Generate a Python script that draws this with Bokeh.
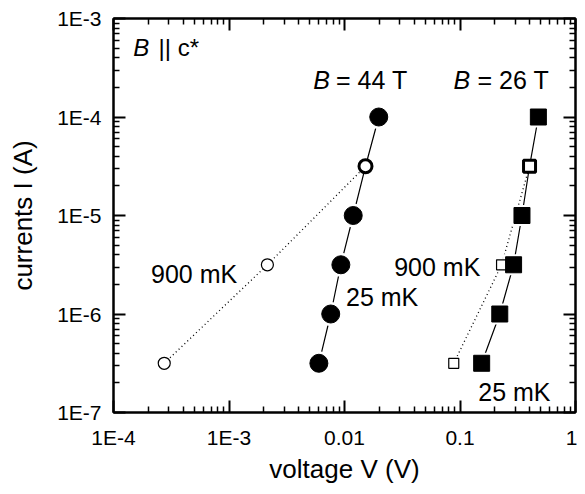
from bokeh.plotting import figure
from bokeh.models import (LogAxis, FixedTicker, CustomJSTickFormatter, Label,
                          ColumnDataSource, CDSView, IndexFilter)
from bokeh.embed import file_html
from bokeh.resources import INLINE

# ---------------- data ----------------
i_levels = [3.16e-7, 1e-6, 3.16e-6, 1e-5, 3.16e-5, 1e-4]
v_44T_25mK = [0.0060, 0.0076, 0.0093, 0.0119, 0.0152, 0.0198]
i_900mK = [3.16e-7, 3.16e-6, 3.16e-5]
v_44T_900mK = [2.75e-4, 0.00215, 0.0152]
v_26T_25mK = [0.154, 0.221, 0.291, 0.344, 0.40, 0.477]
v_26T_900mK = [0.0883, 0.229, 0.40]

x_ticks = [1e-4, 1e-3, 1e-2, 1e-1, 1.0]
x_tick_labels = ["1E-4", "1E-3", "0.01", "0.1", "1"]
y_ticks = [1e-7, 1e-6, 1e-5, 1e-4, 1e-3]
y_tick_labels = ["1E-7", "1E-6", "1E-5", "1E-4", "1E-3"]

FONT = "Liberation Sans"

def minor(decades):
    out = []
    for d in decades[:-1]:
        for k in range(2, 10):
            out.append(d * k)
    return out

fmt_code = """
let best = 0; let bd = 1e9;
for (let k = 0; k < tvals.length; k++) {
  const d = Math.abs(Math.log10(tick) - Math.log10(tvals[k]));
  if (d < bd) { bd = d; best = k; }
}
return tlabels[best];
"""

p = figure(width=577, height=486, x_axis_type="log", y_axis_type="log",
           x_range=(1e-4, 1.0), y_range=(1e-7, 1e-3),
           output_backend="svg", toolbar_location=None,
           min_border_left=113, min_border_top=18, min_border_right=2,
           min_border_bottom=73)
p.grid.visible = False
p.outline_line_color = "black"
p.outline_line_width = 2
p.background_fill_color = "white"
p.border_fill_color = "white"

xt = FixedTicker(ticks=x_ticks, minor_ticks=minor(x_ticks))
yt = FixedTicker(ticks=y_ticks, minor_ticks=minor(y_ticks))

def style(ax, show_labels):
    ax.axis_line_width = 2
    ax.major_tick_in = 12
    ax.major_tick_out = 0
    ax.minor_tick_in = 6
    ax.minor_tick_out = 0
    ax.major_tick_line_width = 2
    ax.minor_tick_line_width = 1.5
    ax.major_label_text_font = FONT
    ax.major_label_text_font_size = "21px"
    ax.major_label_text_color = "black"
    ax.axis_label_text_font = FONT
    ax.axis_label_text_font_style = "normal"
    ax.axis_label_text_font_size = "26px"
    ax.axis_label_text_color = "black"
    if not show_labels:
        ax.major_label_text_font_size = "0px"
        ax.major_label_text_color = None

xa = p.xaxis[0]
xa.ticker = xt
xa.formatter = CustomJSTickFormatter(args=dict(tvals=x_ticks, tlabels=x_tick_labels), code=fmt_code)
style(xa, True)
xa.axis_label = "voltage V (V)"
xa.major_label_standoff = 13
xa.axis_label_standoff = 2

ya = p.yaxis[0]
ya.ticker = yt
ya.formatter = CustomJSTickFormatter(args=dict(tvals=y_ticks, tlabels=y_tick_labels), code=fmt_code)
style(ya, True)
ya.axis_label = "currents I (A)"
ya.major_label_standoff = 12
ya.axis_label_standoff = 16

ta = LogAxis(ticker=FixedTicker(ticks=x_ticks, minor_ticks=minor(x_ticks)))
style(ta, False)
p.add_layout(ta, "above")
ra = LogAxis(ticker=FixedTicker(ticks=y_ticks, minor_ticks=minor(y_ticks)))
style(ra, False)
p.add_layout(ra, "right")

# ---------------- glyphs ----------------
s44 = ColumnDataSource(dict(v=v_44T_25mK, i=i_levels))
s44h = ColumnDataSource(dict(v=v_44T_900mK, i=i_900mK))
s26 = ColumnDataSource(dict(v=v_26T_25mK, i=i_levels))
s26h = ColumnDataSource(dict(v=v_26T_900mK, i=i_900mK))

filled_idx = IndexFilter([0, 1, 2, 3, 5])
open_idx = IndexFilter([0, 1])
shared_idx = IndexFilter([2])

# lines
p.line("v", "i", source=s44, line_color="black", line_width=1.2)
p.line("v", "i", source=s26, line_color="black", line_width=1.2)
p.line("v", "i", source=s44h, line_color="black", line_width=1.3, line_dash="1 3")
p.line("v", "i", source=s26h, line_color="black", line_width=1.3, line_dash="1 3")

# white halos (gap between line and symbol)
p.scatter("v", "i", source=s44, view=CDSView(filter=filled_idx), marker="circle",
          size=24, fill_color="white", line_color=None)
p.scatter("v", "i", source=s26, view=CDSView(filter=filled_idx), marker="square",
          size=21, fill_color="white", line_color=None)

# 900 mK open small markers
p.scatter("v", "i", source=s44h, view=CDSView(filter=open_idx), marker="circle",
          size=12, fill_color="white", line_color="black", line_width=1.2)
p.scatter("v", "i", source=s26h, view=CDSView(filter=open_idx), marker="square",
          size=10, fill_color="white", line_color="black", line_width=1.2)

# 25 mK filled markers
p.scatter("v", "i", source=s44, view=CDSView(filter=filled_idx), marker="circle",
          size=18, fill_color="black", line_color="black")
p.scatter("v", "i", source=s26, view=CDSView(filter=filled_idx), marker="square",
          size=16, fill_color="black", line_color="black")

# shared point (open, thick)
p.scatter("v", "i", source=s44h, view=CDSView(filter=shared_idx), marker="circle",
          size=13, fill_color="white", line_color="black", line_width=3)
p.scatter("v", "i", source=s26h, view=CDSView(filter=shared_idx), marker="square",
          size=12, fill_color="white", line_color="black", line_width=3)

# ---------------- annotations ----------------
def lab(x, y, text, italic=False, size="25px"):
    p.add_layout(Label(x=x, y=y, text=text, text_font=FONT, text_font_size=size,
                       text_font_style="italic" if italic else "normal",
                       text_color="black", text_align="left",
                       text_baseline="alphabetic"))

lab(10**-3.829, 10**-3.295, "B", italic=True, size="24px")
lab(10**-3.610, 10**-3.295, "|| c*", size="24px")
lab(10**-2.270, 10**-3.628, "B", italic=True)
lab(10**-2.073, 10**-3.628, "= 44 T")
lab(10**-1.057, 10**-3.628, "B", italic=True)
lab(10**-0.848, 10**-3.628, "= 26 T")
lab(10**-3.675, 10**-5.589, "900 mK")
lab(10**-1.987, 10**-5.825, "25 mK")
lab(10**-1.570, 10**-5.522, "900 mK")
lab(10**-0.842, 10**-6.787, "25 mK")

open("out.html", "w").write(file_html(p, INLINE))
